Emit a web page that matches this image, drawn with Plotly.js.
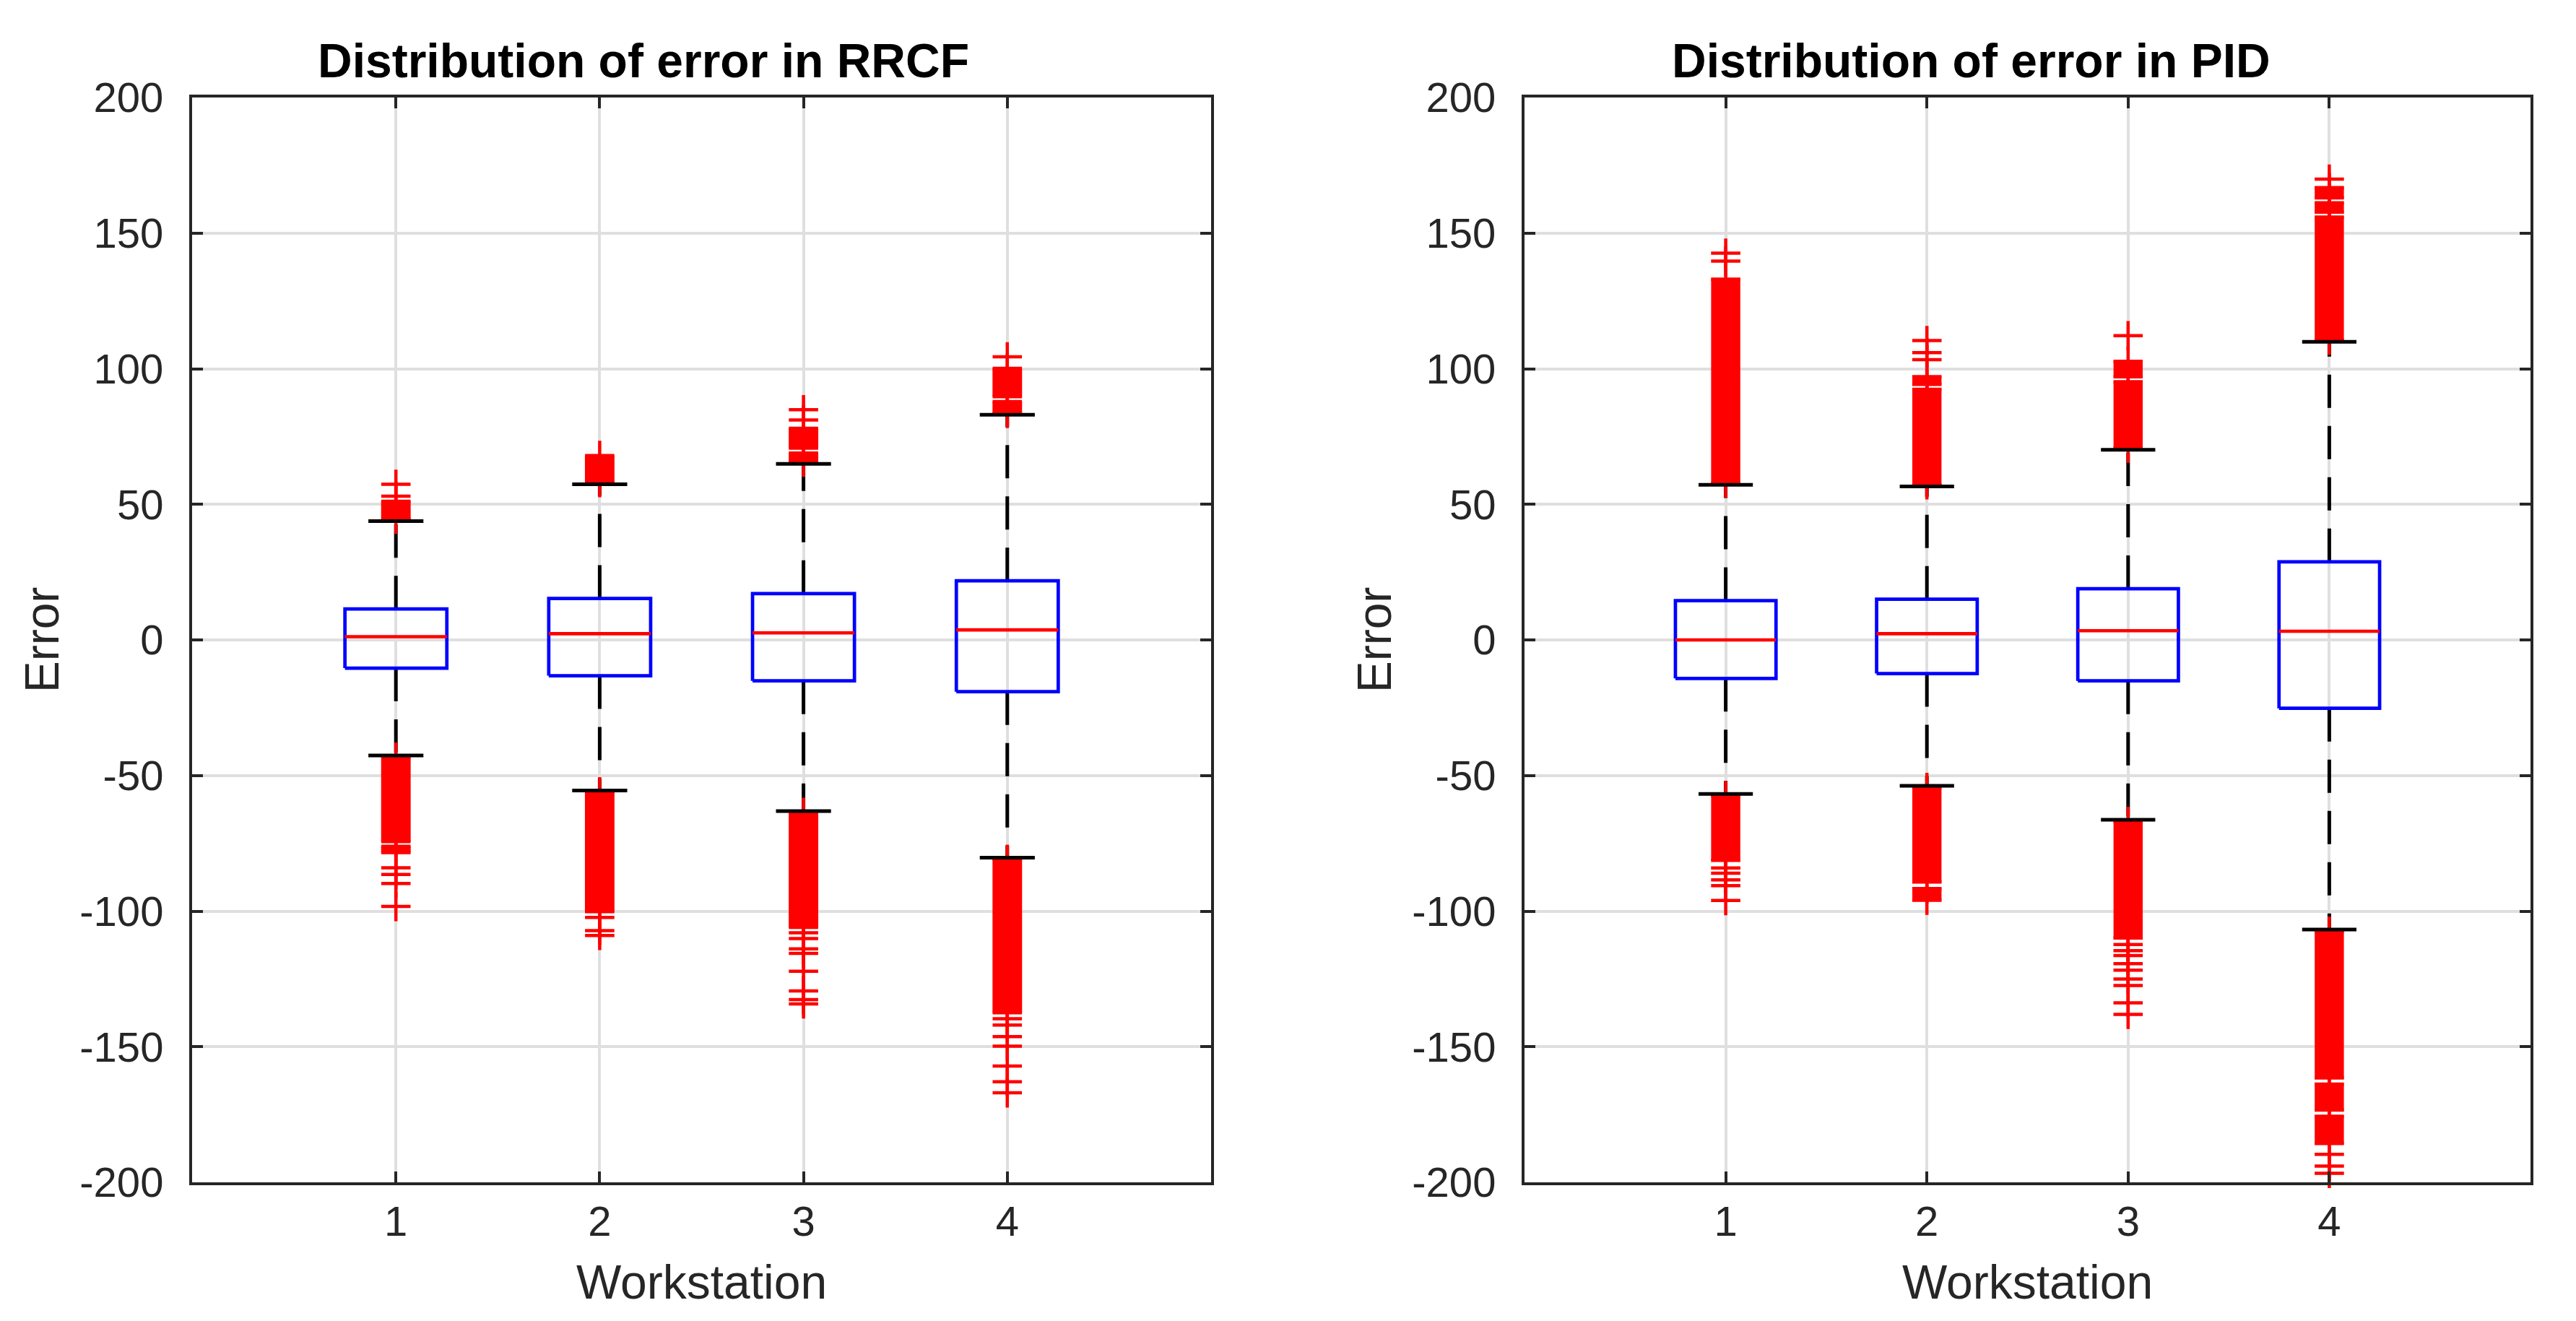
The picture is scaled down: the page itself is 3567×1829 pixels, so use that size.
<!DOCTYPE html>
<html>
<head>
<meta charset="utf-8">
<script src="https://cdn.plot.ly/plotly-3.0.1.min.js"></script>
<style>html,body{margin:0;padding:0;background:#fff}#chart{width:3567px;height:1829px}</style>
</head>
<body>
<div id="chart"></div>
<script>
// ---------------- data ----------------
const workstations = [1, 2, 3, 4];
const xTickLabels = ['1', '2', '3', '4'];
const yTickVals = [-200, -150, -100, -50, 0, 50, 100, 150, 200];
const yTickLabels = ['-200', '-150', '-100', '-50', '0', '50', '100', '150', '200'];
const panelTitles = ['Distribution of error in RRCF', 'Distribution of error in PID'];
const xTitleText = 'Workstation';
const yTitleText = 'Error';

// RRCF box statistics
const rrcfQ1 = [-10.4, -13.2, -15.1, -19.1];
const rrcfMedian = [1.2, 2.3, 2.6, 3.7];
const rrcfQ3 = [11.4, 15.3, 17.1, 21.8];
const rrcfLowerWhisker = [-42.6, -55.5, -63.1, -80.3];
const rrcfUpperWhisker = [43.8, 57.4, 64.9, 83.0];
// RRCF dense outlier runs (first and last outlier of each run)
const rrcfRunWs = [1, 1, 1, 2, 2, 3, 3, 3, 4, 4, 4];
const rrcfRunLo = [44.5, -74.4, -78.4, 58.0, -100.2, 65.5, 70.7, -106.0, 83.5, 89.7, -137.5];
const rrcfRunHi = [51.1, -43.2, -76.1, 68.0, -56.0, 68.9, 78.0, -63.6, 87.9, 100.1, -80.9];
// RRCF isolated outliers
const rrcfOutWs = [1, 1, 1, 1, 1, 1,
                   2, 2, 2,
                   3, 3, 3, 3, 3, 3, 3, 3, 3, 3,
                   4, 4, 4, 4, 4, 4, 4, 4];
const rrcfOutVal = [53.0, 57.4, -84.0, -86.5, -89.8, -98.3,
                    -102.3, -107.2, -109.0,
                    81.1, 84.9, -108.0, -110.1, -113.9, -115.6, -122.2, -129.4, -132.6, -134.2,
                    104.4, -139.7, -142.0, -146.3, -149.8, -157.1, -162.9, -167.0];

// PID box statistics
const pidQ1 = [-14.2, -12.4, -15.1, -25.2];
const pidMedian = [0.0, 2.3, 3.4, 3.2];
const pidQ3 = [14.5, 15.0, 18.9, 28.8];
const pidLowerWhisker = [-56.8, -53.8, -66.3, -106.8];
const pidUpperWhisker = [57.2, 56.6, 70.1, 109.9];
// PID dense outlier runs
const pidRunWs = [1, 1, 2, 2, 2, 2, 3, 3, 3, 4, 4, 4, 4, 4, 4];
const pidRunLo = [57.8, -81.3, 57.2, 94.2, -89.3, -96.0, 70.7, 97.0, -109.9, 110.5, 157.7, 163.0, -161.5, -173.4, -185.7];
const pidRunHi = [133.0, -57.4, 92.4, 97.1, -54.4, -91.7, 95.2, 102.7, -66.9, 155.9, 161.2, 166.8, -107.4, -163.8, -175.6];
// PID isolated outliers
const pidOutWs = [1, 1, 1, 1, 1, 1, 1,
                  2, 2, 2,
                  3, 3, 3, 3, 3, 3, 3, 3, 3, 3,
                  4, 4, 4, 4];
const pidOutVal = [139.7, 142.6, -84.1, -86.0, -88.5, -90.6, -96.1,
                   103.3, 105.9, 110.4,
                   112.2, -112.3, -114.6, -116.4, -119.4, -121.8, -125.0, -127.4, -133.8, -138.1,
                   169.9, -189.7, -194.0, -196.7];

// ---------------- styles ----------------
const FONT = 'Liberation Sans, Arial, Helvetica, sans-serif';
const AX = '#262626';
const BOX_HALF = 0.25, CAP_HALF = 0.135, RUN_WIDTH = 0.145;

function panel(xa, ya, q1, med, q3, lw, uw, runWs, runLo, runHi, outWs, outVal) {
  const tr = [];
  // whiskers (dashed, each starts at the box edge)
  workstations.forEach((w, i) => {
    [[q3[i], uw[i]], [q1[i], lw[i]]].forEach(seg => {
      tr.push({type: 'scatter', mode: 'lines', xaxis: xa, yaxis: ya, x: [w, w], y: seg,
        line: {color: '#000', width: 5, dash: '46px,25px'}, hoverinfo: 'skip', showlegend: false});
    });
  });
  // boxes
  const bx = [], by = [];
  workstations.forEach((w, i) => {
    bx.push(w - BOX_HALF, w + BOX_HALF, w + BOX_HALF, w - BOX_HALF, w - BOX_HALF, null);
    by.push(q1[i], q1[i], q3[i], q3[i], q1[i], null);
  });
  tr.push({type: 'scatter', mode: 'lines', xaxis: xa, yaxis: ya, x: bx, y: by,
    line: {color: '#0000ff', width: 4.7}, hoverinfo: 'skip', showlegend: false});
  // medians
  const mx = [], my = [];
  workstations.forEach((w, i) => { mx.push(w - BOX_HALF, w + BOX_HALF, null); my.push(med[i], med[i], null); });
  tr.push({type: 'scatter', mode: 'lines', xaxis: xa, yaxis: ya, x: mx, y: my,
    line: {color: '#ff0000', width: 4.7}, hoverinfo: 'skip', showlegend: false});
  // dense outlier runs
  tr.push({type: 'bar', xaxis: xa, yaxis: ya, x: runWs, base: runLo,
    y: runLo.map((lo, i) => runHi[i] - lo), width: runWs.map(() => RUN_WIDTH),
    marker: {color: '#ff0000', line: {width: 0}}, hoverinfo: 'skip', showlegend: false});
  // outlier '+' markers
  tr.push({type: 'scatter', mode: 'markers', xaxis: xa, yaxis: ya,
    x: outWs.concat(runWs, runWs), y: outVal.concat(runLo, runHi), cliponaxis: false,
    marker: {symbol: 'cross-thin', size: 29, color: '#ff0000', line: {color: '#ff0000', width: 4.5}},
    hoverinfo: 'skip', showlegend: false});
  // whisker caps
  const cx = [], cy = [];
  workstations.forEach((w, i) => {
    cx.push(w - CAP_HALF, w + CAP_HALF, null, w - CAP_HALF, w + CAP_HALF, null);
    cy.push(uw[i], uw[i], null, lw[i], lw[i], null);
  });
  tr.push({type: 'scatter', mode: 'lines', xaxis: xa, yaxis: ya, x: cx, y: cy,
    line: {color: '#000', width: 5}, hoverinfo: 'skip', showlegend: false});
  return tr;
}

const data = [].concat(
  panel('x', 'y', rrcfQ1, rrcfMedian, rrcfQ3, rrcfLowerWhisker, rrcfUpperWhisker,
        rrcfRunWs, rrcfRunLo, rrcfRunHi, rrcfOutWs, rrcfOutVal),
  panel('x2', 'y2', pidQ1, pidMedian, pidQ3, pidLowerWhisker, pidUpperWhisker,
        pidRunWs, pidRunLo, pidRunHi, pidOutWs, pidOutVal)
);

const W = 3567, H = 1829;
function xAxis(d0, d1, anchor) {
  return {domain: [d0 / W, d1 / W], anchor: anchor, range: [0, 5],
    tickmode: 'array', tickvals: workstations, ticktext: xTickLabels,
    ticks: 'inside', ticklen: 15, tickwidth: 4, tickcolor: AX,
    showline: true, linewidth: 4, linecolor: AX, mirror: 'ticks',
    showgrid: true, gridcolor: '#dfdfdf', gridwidth: 4, zeroline: false,
    tickfont: {family: FONT, size: 58, color: AX}, ticklabelstandoff: 0,
    title: {text: xTitleText, font: {family: FONT, size: 66, color: AX}, standoff: 31},
    fixedrange: true};
}
function yAxis(anchor) {
  return {domain: [1 - 1637 / H, 1 - 135 / H], anchor: anchor, range: [-200, 200],
    tickmode: 'array', tickvals: yTickVals, ticktext: yTickLabels,
    ticks: 'inside', ticklen: 15, tickwidth: 4, tickcolor: AX,
    showline: true, linewidth: 4, linecolor: AX, mirror: 'ticks',
    showgrid: true, gridcolor: '#dfdfdf', gridwidth: 4, zeroline: false,
    tickfont: {family: FONT, size: 58, color: AX}, ticklabelstandoff: 24,
    title: {text: yTitleText, font: {family: FONT, size: 66, color: AX}, standoff: 8},
    fixedrange: true};
}

const layout = {
  width: W, height: H,
  margin: {l: 0, r: 0, t: 0, b: 0},
  paper_bgcolor: '#ffffff', plot_bgcolor: '#ffffff',
  showlegend: false, barmode: 'overlay',
  font: {family: FONT, color: AX},
  xaxis: xAxis(266, 1677, 'y'),
  yaxis: yAxis('x'),
  xaxis2: xAxis(2111, 3504, 'y2'),
  yaxis2: yAxis('x2'),
  annotations: [
    {text: '<b>' + panelTitles[0] + '</b>', xref: 'paper', yref: 'paper', x: 891 / W, y: 1 - 84 / H,
     xanchor: 'center', yanchor: 'middle', showarrow: false, font: {family: FONT, size: 66, color: '#000'}},
    {text: '<b>' + panelTitles[1] + '</b>', xref: 'paper', yref: 'paper', x: 2729 / W, y: 1 - 84 / H,
     xanchor: 'center', yanchor: 'middle', showarrow: false, font: {family: FONT, size: 66, color: '#000'}}
  ]
};

Plotly.newPlot('chart', data, layout, {displayModeBar: false, staticPlot: true});
</script>
</body>
</html>
